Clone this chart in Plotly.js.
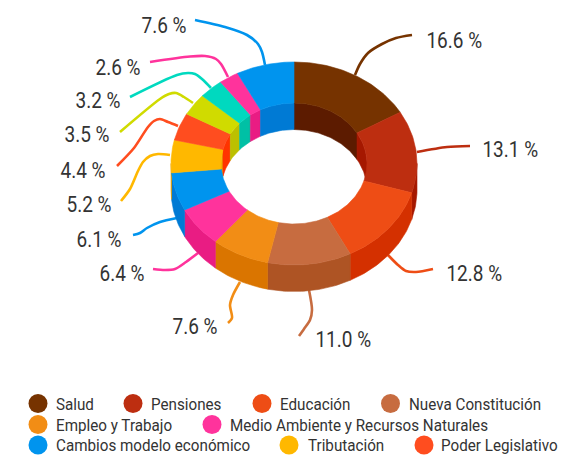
<!DOCTYPE html>
<html><head><meta charset="utf-8">
<script src="https://cdn.plot.ly/plotly-3.0.1.min.js"></script>
<style>html,body{margin:0;padding:0;background:#fff}#c{width:562px;height:455px}</style>
</head><body><div id="c"></div>
<script>
// Data
const categories = ['Salud','Pensiones','Educación','Nueva Constitución','Empleo y Trabajo','Medio Ambiente y Recursos Naturales','Cambios modelo económico','Tributación','Poder Legislativo'];
const values = [16.6,13.1,12.8,11.0,7.6,6.4,6.1,5.2,4.4,3.5,3.2,2.6,7.6];
const topColors = ['#763300','#BD2E10','#EE4D15','#C76C40','#F28D15','#FF339C','#0094EE','#FFB800','#FF4D1F','#D0DB00','#00D9BF','#FF339C','#0094EE'];
const wallColors = ['#5C1B00','#A51800','#D43000','#AE5424','#DA7500','#E91C83','#007AD4','#E8A000','#FF3300','#BCC000','#00C0A5','#E91C83','#007AD4'];

// Layout geometry
const W = 562, H = 455;
const cx = 294, cy = 163.5, rxO = 123, ryO = 101.5, rxI = 73, ryI = 60.5, depth = 26.5;
const labelPos = [[453.5,40],[509.5,149],[473.5,273],[342.5,339],[194.5,326],[121.5,273],[99,239],[88.5,204],[83,170],[87,134],[98,100],[118,67],[163.5,25]];
const leaders = [
 [[355,75],[360,64],[368,53],[382,44],[396,38],[412,35]],
 [[417,152],[447,147],[470,146]],
 [[388,255],[398,265],[406,271],[416,272],[433,269]],
 [[309,290],[312,310],[310,320],[304,329],[299,336]],
 [[240,282],[233,295],[230,305],[232,318],[228,323]],
 [[198,253],[186,262],[175,269],[165,270],[153,269]],
 [[177,218],[160,222],[147,228],[140,233],[133,235]],
 [[170,155],[158,154],[150,156],[143,162],[138,171],[130,189],[121,201]],
 [[178,126],[168,122],[160,119],[154,121],[148,127],[134,148],[117,166]],
 [[193,103],[184,97],[176,93],[169,94],[160,99],[120,132]],
 [[211,88],[202,79],[195,74],[188,73],[177,75],[130,97]],
 [[228,77],[221,64],[216,59],[205,56],[190,56.5],[150,62]],
 [[265,65],[262,52],[258,44],[247,35],[225,27],[195,20]]
];
const legendMarker = [[38,403.5],[133,403.5],[262,403.5],[390.5,403.5],[38,424.5],[212,424.5],[38,445],[289,445],[424,445]];
const legendText = [54.5,150,278.5,407.5,54.5,228.5,54.5,306.5,440];
const legendTextY = [405,405,405,405,426,426,445.5,445.5,445.5];

const total = values.reduce((a,b)=>a+b,0);
const pt = (rx,ry,a,dy) => [cx + rx*Math.sin(a), cy - ry*Math.cos(a) + dy];
function arc(rx,ry,a0,a1,dy){
  const n = Math.max(2,Math.ceil(Math.abs(a1-a0)/0.02)), out=[];
  for(let i=0;i<=n;i++) out.push(pt(rx,ry,a0+(a1-a0)*i/n,dy));
  return out;
}
function poly(points,color){
  const closed = points.concat([points[0]]);
  return {type:'scatter',mode:'lines',x:closed.map(p=>p[0]),y:closed.map(p=>p[1]),fill:'toself',fillcolor:color,
    line:{color:color,width:0.6},hoverinfo:'skip',showlegend:false};
}
const traces = [];
leaders.forEach((l,i)=>traces.push({type:'scatter',mode:'lines',x:l.map(p=>p[0]),y:l.map(p=>p[1]),
  line:{color:topColors[i],width:2.6,shape:'spline',smoothing:0.8},hoverinfo:'skip',showlegend:false}));
const spans = []; let acc = 0;
values.forEach(v=>{ const a0=acc/total*2*Math.PI; acc+=v; spans.push([a0,acc/total*2*Math.PI]); });
const H90 = Math.PI/2, H270 = 3*Math.PI/2;
spans.forEach((s,i)=>{
  [[s[0],Math.min(s[1],H90)],[Math.max(s[0],H270),s[1]]].forEach(r=>{
    if(r[1]>r[0]) traces.push(poly(arc(rxI,ryI,r[0],r[1],0).concat(arc(rxI,ryI,r[1],r[0],depth)),wallColors[i]));
  });
});
spans.forEach((s,i)=>{
  const a0=Math.max(s[0],H90), a1=Math.min(s[1],H270);
  if(a1>a0) traces.push(poly(arc(rxO,ryO,a0,a1,0).concat(arc(rxO,ryO,a1,a0,depth)),wallColors[i]));
});
spans.forEach((s,i)=>traces.push(poly(arc(rxO,ryO,s[0],s[1],0).concat(arc(rxI,ryI,s[1],s[0],0)),topColors[i])));
traces.push({type:'scatter',mode:'markers',x:legendMarker.map(p=>p[0]),y:legendMarker.map(p=>p[1]),
  marker:{size:19,color:categories.map((c,i)=>topColors[i])},hoverinfo:'skip',showlegend:false});

const annotations = [];
values.forEach((v,i)=>annotations.push({x:labelPos[i][0],y:labelPos[i][1],xref:'x',yref:'y',text:v.toFixed(1)+' %',showarrow:false,
  xanchor:'center',yanchor:'middle',font:{family:'Roboto',size:22,color:'#333'}}));
categories.forEach((c,i)=>annotations.push({x:legendText[i],y:legendTextY[i],xref:'x',yref:'y',text:c,showarrow:false,
  xanchor:'left',yanchor:'middle',borderpad:0,font:{family:'Roboto',size:15.6,color:'#333'}}));

Plotly.newPlot('c',traces,{
  width:W,height:H,margin:{l:0,r:0,t:0,b:0},paper_bgcolor:'#fff',plot_bgcolor:'#fff',showlegend:false,
  xaxis:{range:[0,W],visible:false,fixedrange:true},
  yaxis:{range:[H,0],visible:false,fixedrange:true},
  annotations:annotations
},{displayModeBar:false,staticPlot:true}).then(gd=>{
  // The reference type is a narrowed Roboto: condense the real text in place.
  const labelScale = 0.864, legendScale = 0.975;
  gd.querySelectorAll('.annotation-text').forEach((el,i)=>{
    const isLegend = i >= values.length, f = isLegend ? legendScale : labelScale;
    const L = el.getComputedTextLength();
    el.setAttribute('textLength', (L*f).toFixed(2));
    el.setAttribute('lengthAdjust','spacingAndGlyphs');
    if(isLegend) el.setAttribute('x', parseFloat(el.getAttribute('x')||0) - L*(1-f)/2);
  });
});
</script></body></html>
